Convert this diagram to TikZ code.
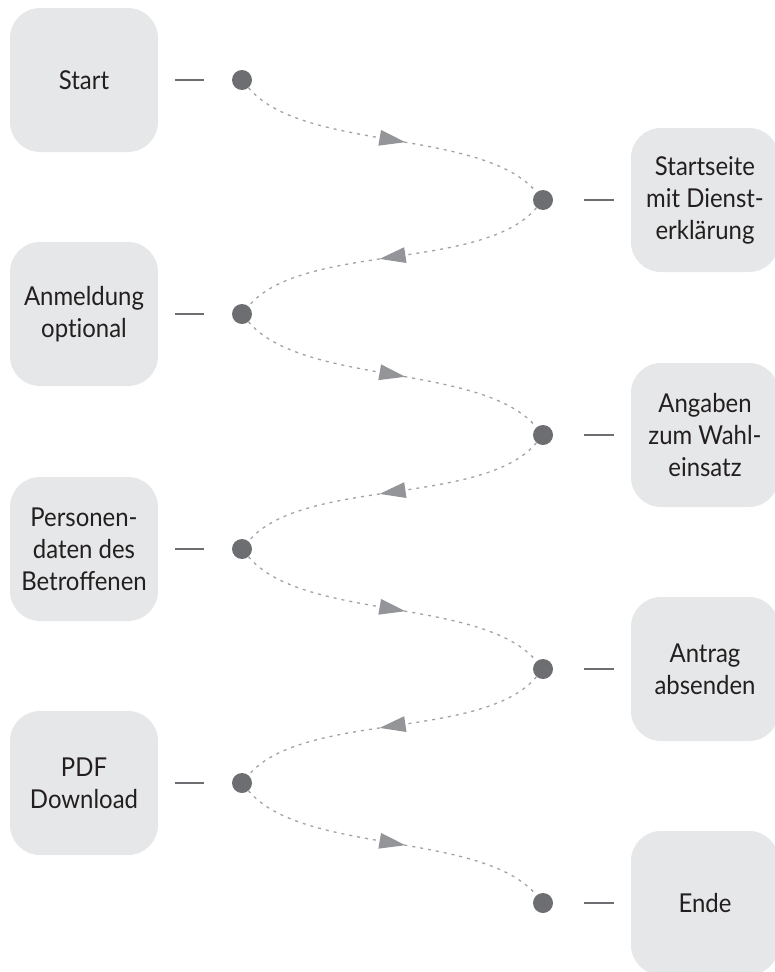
\documentclass[tikz,border=0pt]{standalone}
\usepackage{fontspec}
\setmainfont[FakeStretch=0.92]{Lato}
\usetikzlibrary{decorations.markings}
\definecolor{boxgray}{HTML}{E6E7E8}
\definecolor{dotgray}{HTML}{6D6E71}
\definecolor{linegray}{HTML}{A0A2A5}
\definecolor{arrgray}{HTML}{939598}
\definecolor{txtgray}{HTML}{231F20}
\begin{document}
\begin{tikzpicture}[x=1pt,y=1pt,
  stepbox/.style={fill=boxgray, rounded corners=30pt, minimum width=148pt, minimum height=144pt,
    inner sep=0pt, align=center, font=\fontsize{26}{32}\selectfont, text=txtgray},
  dot/.style={circle, fill=dotgray, minimum size=20pt, inner sep=0pt},
  tick/.style={draw=dotgray, line width=2pt},
  flow/.style={draw=linegray, line width=1.3pt, dash pattern=on 3pt off 5pt,
    postaction={decorate},
    decoration={markings, mark=at position 0.5 with {\fill[arrgray] (13pt,0pt) -- (-13pt,8pt) -- (-13pt,-8pt) -- cycle;}}},
  fwd/.style={out=-50, in=130, looseness=0.7},
  bwd/.style={out=-130, in=50, looseness=0.7}
]
\clip (0,0) rectangle (775,-972);

\node[stepbox] (b1) at (84,-80) {Start};
\node[stepbox] (b2) at (705,-200) {Startseite\\mit Dienst-\\erklärung};
\node[stepbox] (b3) at (84,-314) {Anmeldung\\opt\kern0pt ional};
\node[stepbox] (b4) at (705,-435) {Angaben\\zum Wahl-\\einsatz};
\node[stepbox] (b5) at (84,-549) {Personen-\\daten des\\Betroffenen};
\node[stepbox] (b6) at (705,-669) {Antrag\\absenden};
\node[stepbox] (b7) at (84,-783) {PDF\\Download};
\node[stepbox] (b8) at (705,-903) {Ende};

\node[dot] (d1) at (242,-80) {};
\node[dot] (d2) at (543,-200) {};
\node[dot] (d3) at (242,-314) {};
\node[dot] (d4) at (543,-435) {};
\node[dot] (d5) at (242,-549) {};
\node[dot] (d6) at (543,-669) {};
\node[dot] (d7) at (242,-783) {};
\node[dot] (d8) at (543,-903) {};

\draw[tick, shorten <=17pt, shorten >=38pt] (b1.east) -- (d1.center);
\draw[tick, shorten <=17pt, shorten >=38pt] (b3.east) -- (d3.center);
\draw[tick, shorten <=17pt, shorten >=38pt] (b5.east) -- (d5.center);
\draw[tick, shorten <=17pt, shorten >=38pt] (b7.east) -- (d7.center);
\draw[tick, shorten <=41pt, shorten >=17pt] (d2.center) -- (b2.west);
\draw[tick, shorten <=41pt, shorten >=17pt] (d4.center) -- (b4.west);
\draw[tick, shorten <=41pt, shorten >=17pt] (d6.center) -- (b6.west);
\draw[tick, shorten <=41pt, shorten >=17pt] (d8.center) -- (b8.west);

\draw[flow] (d1) to[fwd] (d2);
\draw[flow] (d2) to[bwd] (d3);
\draw[flow] (d3) to[fwd] (d4);
\draw[flow] (d4) to[bwd] (d5);
\draw[flow] (d5) to[fwd] (d6);
\draw[flow] (d6) to[bwd] (d7);
\draw[flow] (d7) to[fwd] (d8);
\end{tikzpicture}
\end{document}
